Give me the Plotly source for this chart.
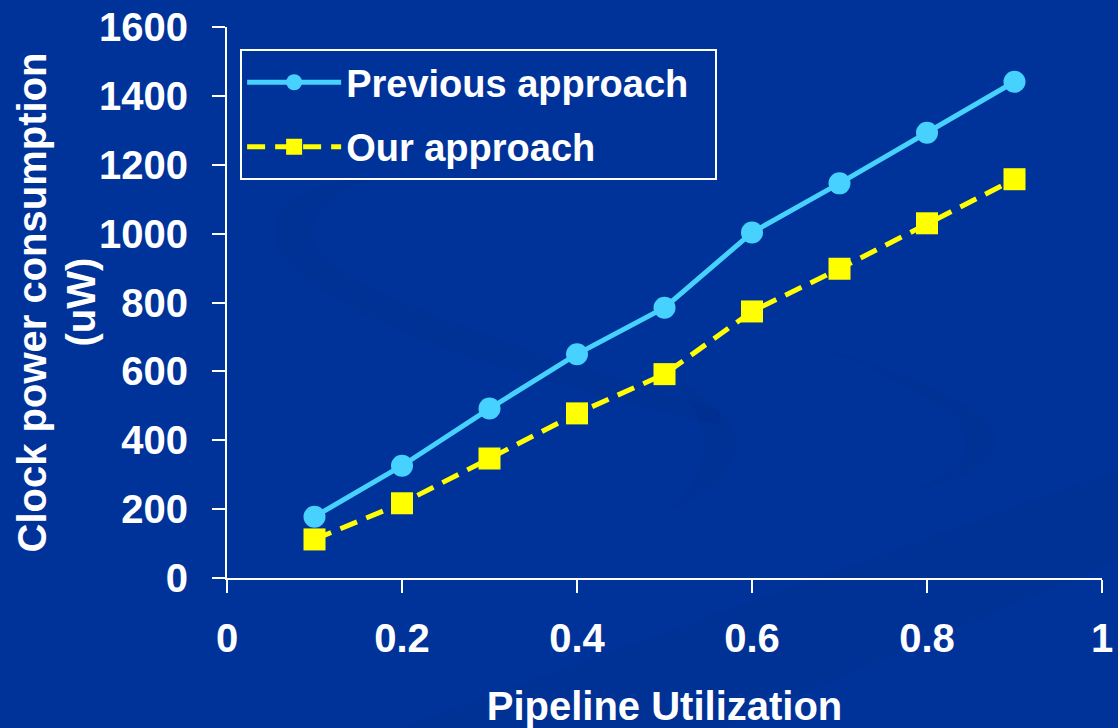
import plotly.graph_objects as go

# Pipeline utilization sweep and measured clock power (uW)
utilization = [0.1, 0.2, 0.3, 0.4, 0.5, 0.6, 0.7, 0.8, 0.9]
previous_power = [178, 326, 492, 650, 785, 1003, 1146, 1293, 1441]
our_power = [112, 217, 347, 478, 592, 774, 898, 1030, 1158]

x_ticks = [0, 0.2, 0.4, 0.6, 0.8, 1]
x_tick_text = ["0", "0.2", "0.4", "0.6", "0.8", "1"]
y_ticks = [0, 200, 400, 600, 800, 1000, 1200, 1400, 1600]

series_names = ["Previous approach\u00a0\u00a0", "Our approach"]
y_title_lines = ["Clock power consumption", "(uW)"]
x_title = "Pipeline Utilization"

BG = "#003399"
SWIRL = "rgba(0,20,100,0.08)"
CYAN = "#47D1FF"
YELLOW = "#FFFF00"
FONT = "Liberation Sans, Arial, sans-serif"

W, H = 1118, 728
ML, MR, MT, MB = 227, 16, 27, 150
PW, PH = W - ML - MR, H - MT - MB


def px_path(cmds):
    """Build an SVG path in paper units from (command, [(px, py), ...]) pairs."""
    out = []
    for cmd, pts in cmds:
        coords = " ".join(f"{(x - ML) / PW:.4f},{(H - MB - y) / PH:.4f}" for x, y in pts)
        out.append(f"{cmd} {coords}" if pts else cmd)
    return " ".join(out)


# Faint slide-background swirls
swirl_paths = [
    px_path([("M", [(380, 175)]), ("Q", [(250, 190), (280, 250)]),
             ("Q", [(330, 335), (720, 425)]), ("L", [(720, 410)]),
             ("Q", [(360, 305), (318, 250)]), ("Q", [(295, 205), (380, 175)]), ("Z", [])]),
    px_path([("M", [(668, 377)]), ("Q", [(805, 443), (668, 512)]),
             ("Q", [(740, 443), (668, 377)]), ("Z", [])]),
    px_path([("M", [(818, 347)]), ("Q", [(1125, 440), (901, 495)]),
             ("Q", [(1065, 440), (818, 347)]), ("Z", [])]),
    px_path([("M", [(400, 728)]), ("L", [(1118, 470)]), ("L", [(1118, 560)]),
             ("L", [(720, 728)]), ("Z", [])]),
]

fig = go.Figure()
fig.add_trace(go.Scatter(
    x=utilization, y=previous_power, name=series_names[0],
    mode="lines+markers", legendgroup="a",
    line=dict(color=CYAN, width=5),
    marker=dict(symbol="circle", size=22, color=CYAN),
))
fig.add_trace(go.Scatter(
    x=utilization, y=our_power, name=series_names[1],
    mode="lines+markers", legendgroup="b",
    line=dict(color=YELLOW, width=5, dash="18px,10px"),
    marker=dict(symbol="square", size=22, color=YELLOW),
))

axis_common = dict(
    showgrid=False, zeroline=False, automargin=False,
    showline=True, linecolor="white", linewidth=2,
    ticks="outside", ticklen=13, tickwidth=2, tickcolor="white",
    tickfont=dict(family=FONT, size=40, color="white", weight="bold"),
)

fig.update_layout(
    width=W, height=H,
    margin=dict(l=ML, r=MR, t=MT, b=MB),
    paper_bgcolor=BG, plot_bgcolor="rgba(0,0,0,0)",
    font=dict(family=FONT, color="white", size=38),
    xaxis=dict(
        range=[0, 1], tickvals=x_ticks, ticktext=x_tick_text,
        ticklabelstandoff=11,
        title=dict(text=f"<b>{x_title}</b>", standoff=35,
                   font=dict(family=FONT, size=40, color="white")),
        **axis_common,
    ),
    yaxis=dict(
        range=[0, 1600], tickvals=y_ticks,
        ticklabelstandoff=16,
        **axis_common,
    ),
    legend=dict(
        x=0.015, y=0.96, xanchor="left", yanchor="top",
        bgcolor="rgba(0,0,0,0)", bordercolor="white", borderwidth=2,
        font=dict(family=FONT, size=38, color="white", weight="bold"),
        traceorder="grouped", tracegroupgap=12,
        itemwidth=94,
    ),
    showlegend=True,
    shapes=[dict(type="path", path=p, xref="paper", yref="paper",
                 fillcolor=SWIRL, line=dict(width=0), layer="below")
            for p in swirl_paths],
)

# Two-line vertical y-axis title
for text, xpos in zip(y_title_lines, [-0.2240, -0.1680]):
    fig.add_annotation(
        text=f"<b>{text}</b>", xref="paper", yref="paper",
        x=xpos, y=0.5, xanchor="center", yanchor="middle",
        textangle=-90, showarrow=False,
        font=dict(family=FONT, size=40, color="white"),
    )

fig.write_html("out.html")
